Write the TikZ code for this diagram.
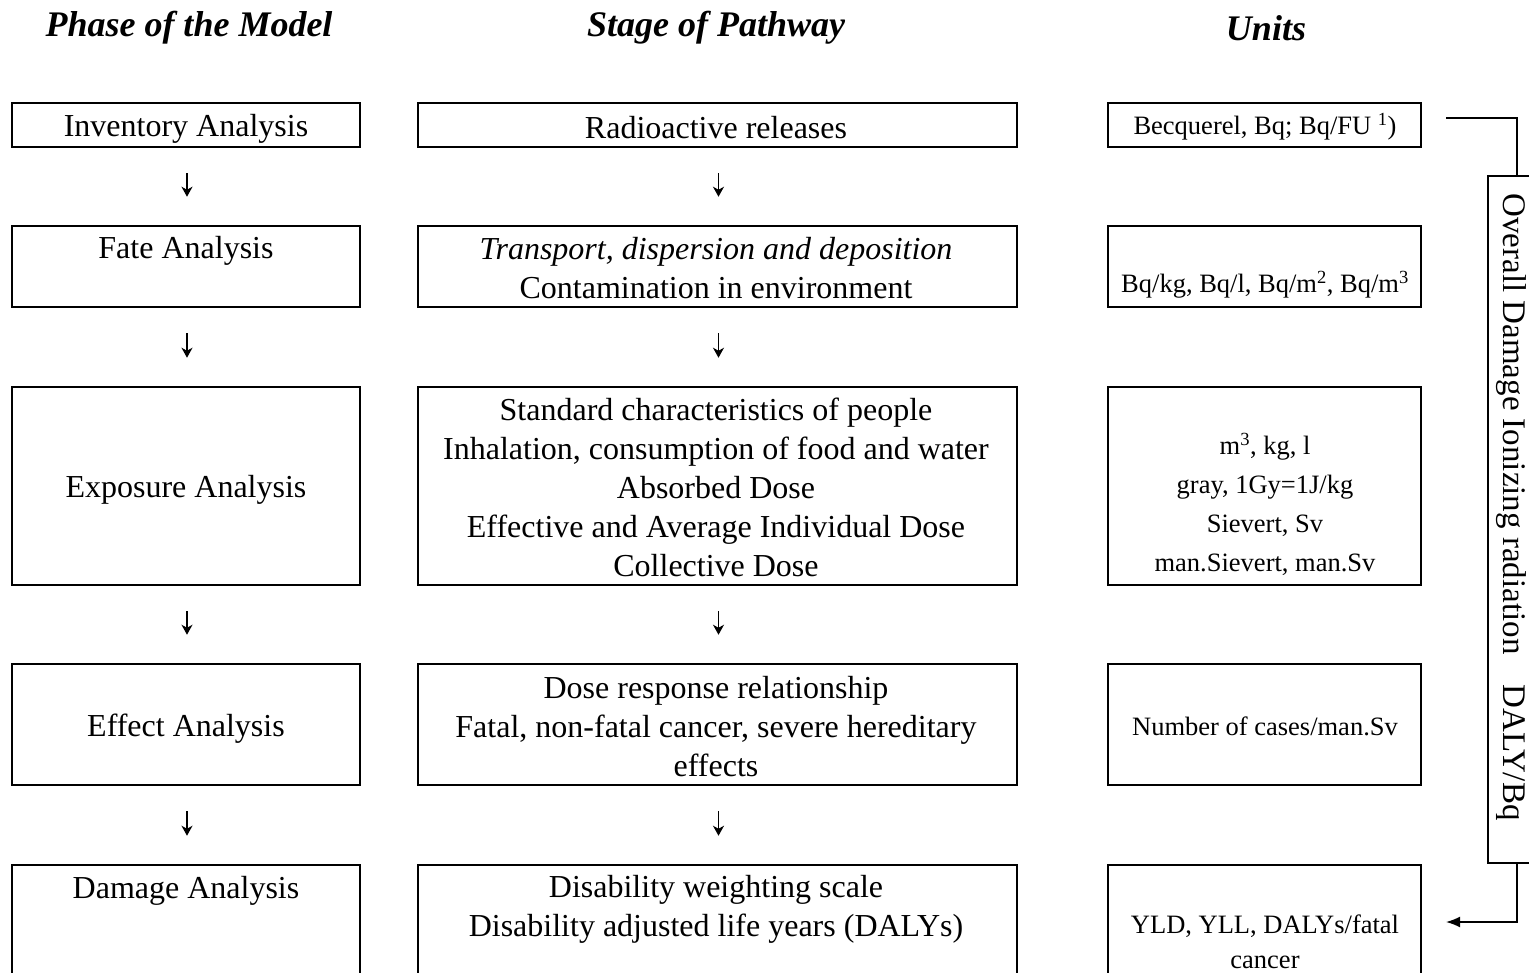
\documentclass[tikz,border=0pt]{standalone}
\usepackage{fontspec}
\setmainfont{Liberation Serif}
\usetikzlibrary{arrows.meta}
\begin{document}
\begin{tikzpicture}[x=1pt,y=-1pt,
  frame/.style={draw, line width=2.5pt, inner sep=0pt},
  lbox/.style={frame, minimum width=348pt},
  mbox/.style={frame, minimum width=599pt},
  ubox/.style={frame, minimum width=313pt},
  main/.style={font=\fontsize{32}{39}\selectfont, align=center, inner sep=0pt},
  unit/.style={font=\fontsize{26.5}{39}\selectfont, align=center, inner sep=0pt},
  head/.style={font=\fontsize{36}{40}\selectfont\bfseries\itshape, inner sep=0pt},
  flow/.style={-{Stealth[length=10pt,width=11pt,inset=3pt]}, line width=1.5pt,
               shorten <=25pt, shorten >=28pt},
  link/.style={line width=1.6pt},
  vtext/.style={font=\fontsize{33}{38}\selectfont, inner sep=0pt, rotate=-90}
]
\useasboundingbox (0,0) rectangle (1529,973);
\clip (0,0) rectangle (1529,973);

% column headings
\node[head] (h1) at (189,28) {Phase of the Model};
\node[head] (h2) at (716,28) {Stage of Pathway};
\node[head] (h3) at (1266,28) {Units};

% phase of the model
\node[lbox, minimum height=44pt]  (L1) at (186,125) {};
\node[lbox, minimum height=81pt]  (L2) at (186,266.5) {};
\node[lbox, minimum height=198pt] (L3) at (186,486) {};
\node[lbox, minimum height=121pt] (L4) at (186,724.5) {};
\node[lbox, minimum height=150pt] (L5) at (186,940) {};

% stage of pathway
\node[mbox, minimum height=44pt]  (M1) at (717.5,125) {};
\node[mbox, minimum height=81pt]  (M2) at (717.5,266.5) {};
\node[mbox, minimum height=198pt] (M3) at (717.5,486) {};
\node[mbox, minimum height=121pt] (M4) at (717.5,724.5) {};
\node[mbox, minimum height=150pt] (M5) at (717.5,940) {};

% units
\node[ubox, minimum height=44pt]  (U1) at (1264.5,125) {};
\node[ubox, minimum height=81pt]  (U2) at (1264.5,266.5) {};
\node[ubox, minimum height=198pt] (U3) at (1264.5,486) {};
\node[ubox, minimum height=121pt] (U4) at (1264.5,724.5) {};
\node[ubox, minimum height=150pt] (U5) at (1264.5,940) {};

% texts of the phases
\node[main] (tL1) at (186,129) {Inventory Analysis};
\node[main] (tL2) at (186,251) {Fate Analysis};
\node[main] (tL3) at (186,490) {Exposure Analysis};
\node[main] (tL4) at (186,729) {Effect Analysis};
\node[main] (tL5) at (186,891) {Damage Analysis};

% texts of the pathway stages
\node[main] (tM1) at (716,128) {Radioactive releases};
\node[main] (tM2) at (716,268) {\itshape Transport, dispersion and deposition\\Contamination in environment};
\node[main] (tM3) at (716,487) {Standard characteristics of people\\Inhalation, consumption of food and water\\Absorbed Dose\\Effective and Average Individual Dose\\Collective Dose};
\node[main] (tM4) at (716,727) {Dose response relationship\\Fatal, non-fatal cancer, severe hereditary\\effects};
\node[main] (tM5) at (716,909) {Disability weighting scale\\Disability adjusted life years (DALYs)};

% texts of the units
\node[unit] (tU1) at (1265,127) {Becquerel, Bq; Bq/FU \textsuperscript{1})};
\node[unit] (tU2) at (1265,285) {Bq/kg, Bq/l, Bq/m\textsuperscript{2}, Bq/m\textsuperscript{3}};
\node[unit] (tU3) at (1265,504) {m\textsuperscript{3}, kg, l\\gray, 1Gy=1J/kg\\Sievert, Sv\\man.Sievert, man.Sv};
\node[unit] (tU4) at (1265,726) {Number of cases/man.Sv};
\node[unit, font=\fontsize{26.5}{35}\selectfont] (tU5) at (1265,942) {YLD, YLL, DALYs/fatal\\cancer};

% downward steps
\foreach \a/\b in {L1/L2,L2/L3,L3/L4,L4/L5,M1/M2,M2/M3,M3/M4,M4/M5}
  \draw[flow] ([xshift=1pt]\a.south) -- ([xshift=1pt]\b.north);

% overall damage bracket
\node[frame, line width=1.6pt, minimum width=58pt, minimum height=687pt] (V) at (1517,519.5) {};
\node[vtext] (tV) at (1511,507) {Overall Damage Ionizing radiation\hspace{30pt}DALY/Bq};
\coordinate (bt) at (1446,118);
\coordinate (bb) at (1446,922);
\draw[link] (bt) -| (V.north);
\draw[link, -{Latex[length=14pt,width=11pt]}] (V.south) |- (bb);
\end{tikzpicture}
\end{document}
